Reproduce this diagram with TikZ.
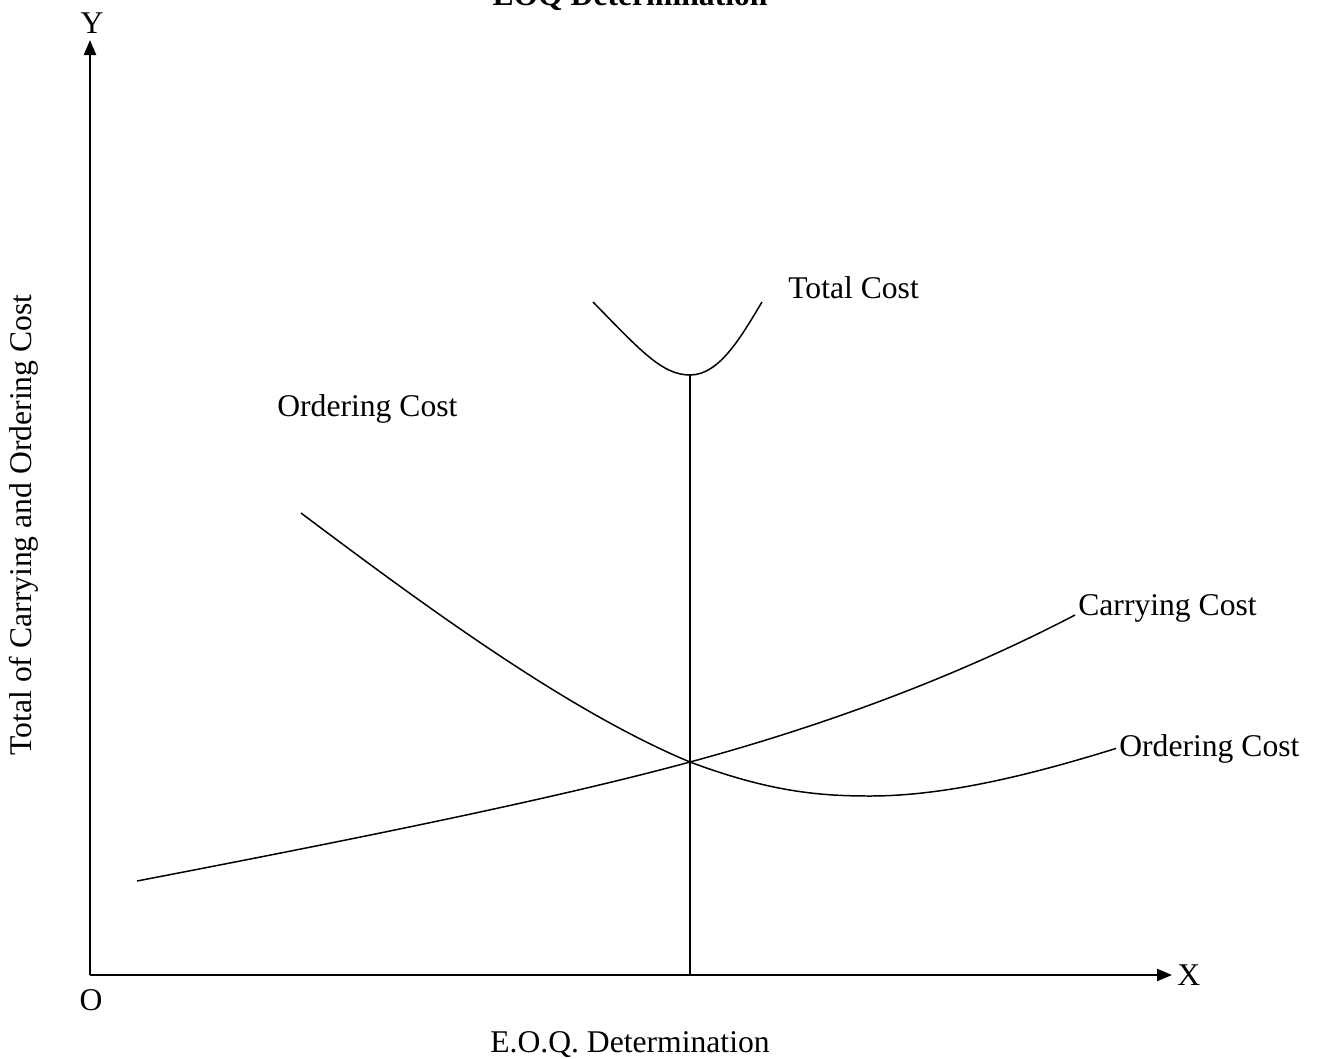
\documentclass[tikz,border=0pt]{standalone}
\usepackage{fontspec}
\setmainfont{Liberation Serif}
\usepackage{tikz}
\usetikzlibrary{arrows.meta}

\begin{document}
\begin{tikzpicture}[x=0.02cm,y=-0.02cm,
    txt/.style={font=\fontsize{18}{21}\selectfont,inner sep=0.06cm},
    axis/.style={line width=1.3pt,-{Triangle[length=0.3cm,width=0.24cm]}},
    curve/.style={line width=0.85pt}]
    \useasboundingbox (0,0) rectangle (1323,1059);

    % Axes
    \coordinate (O) at (90,975);
    \coordinate (ytip) at (90,40);
    \coordinate (xtip) at (1172,975);
    \draw[axis] (O) -- (ytip);
    \draw[axis] (O) -- (xtip);
    \node[txt,anchor=base] (ylab) at (92,33) {Y};
    \node[txt,anchor=base west] (xlab) at (1174,985) {X};
    \node[txt,anchor=base] (olab) at (91,1010) {O};
    \node[txt,anchor=base] (xtitle) at (630,1052) {E.O.Q. Determination};
    \node[txt,anchor=center,rotate=90] (ytitle) at (24,525) {Total of Carrying and Ordering Cost};
    \node[txt,anchor=base,font=\fontsize{18}{21}\selectfont\bfseries] (title) at (630,5) {EOQ Determination};

    % Labels
    \node[txt,anchor=base west] (tclab) at (785,298) {Total Cost};
    \node[txt,anchor=base west] (oclab) at (274,416) {Ordering Cost};
    \node[txt,anchor=base west] (cclab) at (1075,615) {Carrying Cost};
    \node[txt,anchor=base west] (oclabr) at (1116,756) {Ordering Cost};

    % Total cost
    \coordinate (tcmin) at (690,375);
    \draw[curve] (593,302) .. controls (640,350) and (662,375) .. (tcmin)
                 .. controls (720,375) and (742,335) .. (762,302);
    \draw[line width=0.85pt] (tcmin) -- (tcmin |- O);

    % Ordering cost
    \coordinate (eoq) at (690,762);
    \draw[curve] (301,513) .. controls (430,610) and (570,712) .. (eoq)
                 .. controls (770,792) and (820,796) .. (870,796)
                 .. controls (950,796) and (1040,772) .. (oclabr.west);

    % Carrying cost
    \draw[curve] (137,881) .. controls (350,840) and (550,800) .. (eoq)
                 .. controls (830,724) and (960,675) .. (cclab.base west);
\end{tikzpicture}
\end{document}
